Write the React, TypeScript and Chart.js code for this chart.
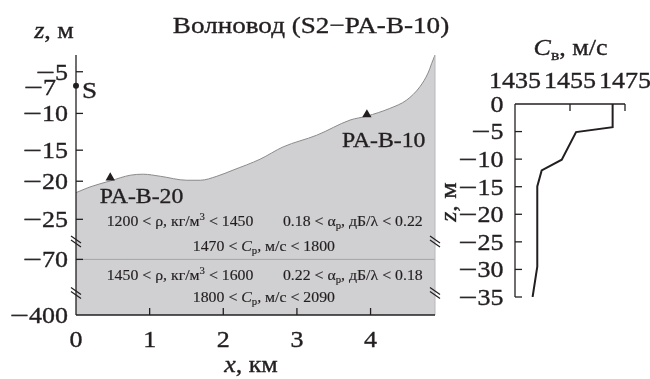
import React, { useEffect, useRef } from "react";
import { Chart, registerables } from "chart.js";

Chart.register(...registerables);

const FONT = '"Liberation Serif", "Times New Roman", serif';
const INK = "#231f20";
const STRETCH = 1.13;

// ---- left panel: waveguide cross-section ----
const X_MAX = 4.875; // km
const X_TICKS = [0, 1, 2, 3, 4];
const BOTTOM_X = [0, 0.19, 0.465, 0.737, 0.913, 1.144, 1.506, 1.687, 1.913, 2.134, 2.5, 2.813, 3.27, 3.722, 3.948, 4.26, 4.49, 4.67, 4.78, 4.83, 4.875];
const BOTTOM_Z = [-21.5, -20.75, -19.95, -19.03, -18.87, -19.2, -19.84, -19.84, -19.2, -18.2, -16.45, -14.55, -12.96, -10.9, -10.37, -9.46, -8.55, -7.11, -5.19, -4.0, -3.0];
const LAYER_BOUNDARY_Z = -70;
const RECEIVER_NAMES = ["PA-B-20", "PA-B-10"];
const RECEIVER_X = [0.465, 3.95];
const RECEIVER_Z = [-19.43, -10.16];
const SOURCE_NAME = "S";
const SOURCE_X = 0;
const SOURCE_Z = -7;
const Y_TICKS = [-5, -10, -15, -20, -25, -70, -400];
// broken depth axis: depth stops and their position on the axis (0 = top, -100 = bottom)
const DEPTH_STOPS = [-3, -5, -7, -10, -15, -20, -25, -70, -400];
const AXIS_STOPS = [0, -6.44, -11.83, -22.47, -36.61, -48.55, -63.2, -78.61, -100];
const AXIS_BREAKS = [-71.9, -91.7];

// ---- right panel: sound speed profile ----
const SPEED_Z = [0, -4.2, -5.1, -10.1, -12.05, -14.95, -29.5, -35];
const SPEED_C = [1470.5, 1470.5, 1457.2, 1452.0, 1444.7, 1443.1, 1443.1, 1441.4];
const C_TICKS = [1435, 1455, 1475];
const Z_TICKS = [0, -5, -10, -15, -20, -25, -30, -35];

const toAxis = (z: number) => {
  for (let i = 0; i < DEPTH_STOPS.length - 1; i++) {
    const a = DEPTH_STOPS[i], b = DEPTH_STOPS[i + 1];
    if (z <= a && z >= b) {
      const t = (z - a) / (b - a);
      return AXIS_STOPS[i] + t * (AXIS_STOPS[i + 1] - AXIS_STOPS[i]);
    }
  }
  return z > DEPTH_STOPS[0] ? AXIS_STOPS[0] : AXIS_STOPS[AXIS_STOPS.length - 1];
};

type Seg = { t: string; it?: boolean; sub?: boolean; sup?: boolean; wide?: number };

// number as segments, with a wider minus sign like the original typesetting
const num = (v: number): Seg[] => (v < 0 ? [{ t: "\u2212", wide: 1.3 }, { t: String(Math.abs(v)) }] : [{ t: String(v) }]);

function rich(ctx: CanvasRenderingContext2D, segs: Seg[], x: number, y: number, size: number, align: "left" | "center" | "right", rot = 0, weight = 0.35) {
  ctx.save();
  const parts = segs.map((s) => {
    const small = s.sub || s.sup;
    const fs = small ? size * 0.68 : size;
    const font = `${s.it ? "italic " : ""}${fs}px ${FONT}`;
    ctx.font = font;
    const k = s.wide || 1;
    return { t: s.t, font, k, w: ctx.measureText(s.t).width * k, dy: s.sub ? size * 0.22 : s.sup ? -size * 0.4 : 0 };
  });
  const total = parts.reduce((a, p) => a + p.w, 0) * STRETCH;
  ctx.translate(x, y);
  if (rot) ctx.rotate(rot);
  const x0 = align === "left" ? 0 : align === "center" ? -total / 2 : -total;
  ctx.translate(x0, 0);
  ctx.scale(STRETCH, 1);
  ctx.fillStyle = INK;
  ctx.strokeStyle = INK;
  ctx.lineWidth = weight;
  ctx.textAlign = "left";
  ctx.textBaseline = "alphabetic";
  let cx = 0;
  for (const p of parts) {
    ctx.font = p.font;
    ctx.save();
    ctx.translate(cx, p.dy);
    ctx.scale(p.k, 1);
    ctx.fillText(p.t, 0, 0);
    if (weight > 0) ctx.strokeText(p.t, 0, 0);
    ctx.restore();
    cx += p.w;
  }
  ctx.restore();
}

function line(ctx: CanvasRenderingContext2D, x1: number, y1: number, x2: number, y2: number, w = 1.3, c = INK) {
  ctx.save();
  ctx.strokeStyle = c;
  ctx.lineWidth = w;
  ctx.beginPath();
  ctx.moveTo(x1, y1);
  ctx.lineTo(x2, y2);
  ctx.stroke();
  ctx.restore();
}

const leftDecor = {
  id: "leftDecor",
  afterDraw(chart: any) {
    const { ctx, chartArea: a, scales } = chart;
    const xs = scales.x, ys = scales.y;
    // right edge of section
    line(ctx, a.right, ys.getPixelForValue(toAxis(BOTTOM_Z[BOTTOM_Z.length - 1])), a.right, a.bottom, 1, "#b8b8ba");
    // axes
    line(ctx, a.left, a.top, a.left, a.bottom);
    line(ctx, a.left, a.bottom, a.right, a.bottom);
    // y ticks (inward)
    Y_TICKS.forEach((z) => {
      const py = ys.getPixelForValue(toAxis(z));
      if (z !== -400) line(ctx, a.left, py, a.left + 7, py);
      rich(ctx, num(z), 68, py + 7.8, 23, "right");
    });
    // x ticks
    X_TICKS.forEach((v) => {
      const px = xs.getPixelForValue(v);
      if (v !== 0) line(ctx, px, a.bottom, px, a.bottom - 7);
      rich(ctx, num(v), px, 346.5, 23, "center");
    });
    // axis breaks
    AXIS_BREAKS.forEach((u) => {
      const py = ys.getPixelForValue(u);
      [a.left, a.right].forEach((bx) => {
        line(ctx, bx - 5, py - 6, bx + 5, py + 1, 1.2);
        line(ctx, bx - 5, py - 2, bx + 5, py + 5, 1.2);
      });
    });
    // source label
    const sx = xs.getPixelForValue(SOURCE_X), sy = ys.getPixelForValue(toAxis(SOURCE_Z));
    rich(ctx, [{ t: SOURCE_NAME }], sx + 6, sy + 12.3, 24, "left");
    rich(ctx, num(SOURCE_Z), sx - 20, sy + 9.5, 23, "right");
    // receiver labels
    const r0x = xs.getPixelForValue(RECEIVER_X[0]), r0y = ys.getPixelForValue(toAxis(RECEIVER_Z[0]));
    rich(ctx, [{ t: RECEIVER_NAMES[0] }], r0x - 10.5, r0y + 25.5, 21, "left");
    const r1x = xs.getPixelForValue(RECEIVER_X[1]), r1y = ys.getPixelForValue(toAxis(RECEIVER_Z[1]));
    rich(ctx, [{ t: RECEIVER_NAMES[1] }], r1x - 25, r1y + 32, 21, "left");
    // layer properties
    const f = 14;
    const w = 0.15;
    rich(ctx, [{ t: "1200 < \u03c1, \u043a\u0433/\u043c" }, { t: "3", sup: true }, { t: " < 1450" }], 106.7, 226, f, "left", 0, w);
    rich(ctx, [{ t: "0.18 < \u03b1" }, { t: "\u0440", sub: true }, { t: ", \u0434\u0411/\u03bb < 0.22" }], 422.7, 226, f, "right", 0, w);
    rich(ctx, [{ t: "1470 < " }, { t: "C", it: true }, { t: "\u0440", sub: true }, { t: ", \u043c/\u0441 < 1800" }], 335, 251, f, "right", 0, w);
    rich(ctx, [{ t: "1450 < \u03c1, \u043a\u0433/\u043c" }, { t: "3", sup: true }, { t: " < 1600" }], 106.7, 280, f, "left", 0, w);
    rich(ctx, [{ t: "0.22 < \u03b1" }, { t: "\u0440", sub: true }, { t: ", \u0434\u0411/\u03bb < 0.18" }], 422.7, 280, f, "right", 0, w);
    rich(ctx, [{ t: "1800 < " }, { t: "C", it: true }, { t: "\u0440", sub: true }, { t: ", \u043c/\u0441 < 2090" }], 335, 301.7, f, "right", 0, w);
    // titles
    rich(ctx, [{ t: "\u0412\u043e\u043b\u043d\u043e\u0432\u043e\u0434 (S2\u2212PA-B-10)" }], 311, 33, 24, "center");
    rich(ctx, [{ t: "z", it: true }, { t: ", \u043c" }], 54, 37.7, 23, "center");
    rich(ctx, [{ t: "x", it: true }, { t: ", \u043a\u043c" }], 251, 371.5, 23, "center");
  },
};

const rightDecor = {
  id: "rightDecor",
  afterDraw(chart: any) {
    const { ctx, chartArea: a, scales } = chart;
    const xs = scales.x, ys = scales.y;
    line(ctx, a.left, a.top, a.left, a.bottom);
    line(ctx, a.left, a.top, a.right, a.top);
    Z_TICKS.forEach((z) => {
      const py = ys.getPixelForValue(z);
      if (z !== 0) line(ctx, a.left, py, a.left + 7, py);
      rich(ctx, num(z), 503.5, py + 7.8, 23, "right");
    });
    C_TICKS.forEach((c) => {
      const px = xs.getPixelForValue(c);
      if (c !== C_TICKS[0]) line(ctx, px, a.top, px, a.top + 7);
      rich(ctx, num(c), px, 88, 23, "center");
    });
    rich(ctx, [{ t: "C", it: true }, { t: "\u0432", sub: true }, { t: ", \u043c/\u0441" }], 570.5, 55, 23, "center");
    rich(ctx, [{ t: "z", it: true }, { t: ", \u043c" }], 456, 202, 23, "center", -Math.PI / 2);
  },
};

export default function App() {
  const leftRef = useRef<HTMLCanvasElement>(null);
  const rightRef = useRef<HTMLCanvasElement>(null);

  useEffect(() => {
    const bottomData = BOTTOM_X.map((x, i) => ({ x, y: toAxis(BOTTOM_Z[i]) }));
    const left = new Chart(leftRef.current!, {
      type: "line",
      data: {
        datasets: [
          {
            data: bottomData,
            borderColor: "#8a8a8c",
            borderWidth: 1,
            backgroundColor: "#d0d0d2",
            fill: "start",
            pointRadius: 0,
            cubicInterpolationMode: "monotone",
            order: 3,
          } as any,
          {
            data: [
              { x: 0, y: toAxis(LAYER_BOUNDARY_Z) },
              { x: X_MAX, y: toAxis(LAYER_BOUNDARY_Z) },
            ],
            borderColor: "#a3a3a5",
            borderWidth: 1,
            pointRadius: 0,
            fill: false,
            order: 2,
          },
          {
            type: "scatter",
            data: RECEIVER_X.map((x, i) => ({ x, y: toAxis(RECEIVER_Z[i]) })),
            pointStyle: "triangle",
            pointRadius: 5.4,
            backgroundColor: INK,
            borderWidth: 0,
            order: 1,
          } as any,
          {
            type: "scatter",
            data: [{ x: SOURCE_X, y: toAxis(SOURCE_Z) }],
            pointRadius: 3,
            backgroundColor: INK,
            borderWidth: 0,
            clip: false,
            order: 1,
          } as any,
        ],
      },
      options: {
        animation: false,
        responsive: false,
        devicePixelRatio: 1,
        layout: { padding: { left: 76, top: 55, right: 215, bottom: 64 } },
        plugins: { legend: { display: false }, tooltip: { enabled: false } },
        scales: {
          x: { type: "linear", display: false, min: 0, max: X_MAX },
          y: { type: "linear", display: false, min: -100, max: 0 },
        },
      },
      plugins: [leftDecor],
    });

    const right = new Chart(rightRef.current!, {
      type: "line",
      data: {
        datasets: [
          {
            data: SPEED_C.map((c, i) => ({ x: c, y: SPEED_Z[i] })),
            borderColor: INK,
            borderWidth: 2,
            pointRadius: 0,
            fill: false,
            tension: 0,
          },
        ],
      },
      options: {
        animation: false,
        responsive: false,
        devicePixelRatio: 1,
        layout: { padding: { left: 515, top: 104, right: 25, bottom: 82 } },
        plugins: { legend: { display: false }, tooltip: { enabled: false } },
        scales: {
          x: { type: "linear", display: false, min: 1435, max: 1475 },
          y: { type: "linear", display: false, min: -35, max: 0 },
        },
      },
      plugins: [rightDecor],
    });

    return () => {
      left.destroy();
      right.destroy();
    };
  }, []);

  const cs: React.CSSProperties = { position: "absolute", left: 0, top: 0, width: 650, height: 379 };
  return (
    <div style={{ position: "fixed", left: 0, top: 0, width: 650, height: 379, background: "#ffffff" }}>
      <canvas ref={leftRef} width={650} height={379} style={cs} />
      <canvas ref={rightRef} width={650} height={379} style={cs} />
    </div>
  );
}
